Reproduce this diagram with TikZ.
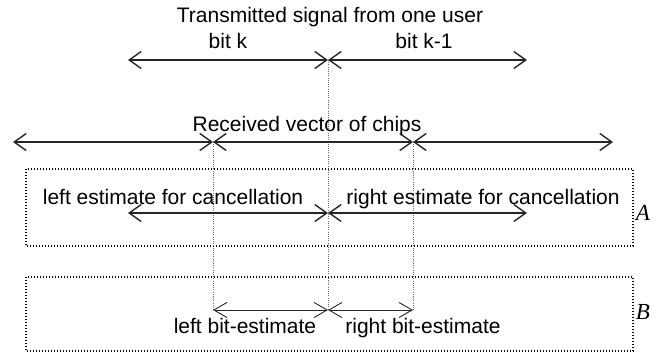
\documentclass[tikz,border=0pt]{standalone}
\usepackage{fontspec}
\setmainfont{Liberation Sans}
\newfontfamily\serifface{Liberation Serif}
\usetikzlibrary{arrows.meta}
\begin{document}
\begin{tikzpicture}[x=1pt,y=-1pt,
  txt/.style={font=\fontsize{21}{24}\selectfont, inner sep=0pt, anchor=base},
  span/.style={draw=black!85, line width=1.4pt,
    {Straight Barb[length=12pt,width=17pt]}-{Straight Barb[length=12pt,width=17pt]}},
  thinspan/.style={draw=black!85, line width=0.9pt,
    {Straight Barb[length=13pt,width=15pt]}-{Straight Barb[length=13pt,width=15pt]}},
  guide/.style={draw=black!60, line width=0.6pt, dash pattern=on 1pt off 1.2pt},
  region/.style={draw=black, line width=1.5pt, dash pattern=on 1.4pt off 1.6pt},
  lbl/.style={font=\serifface\itshape\fontsize{23}{24}\selectfont, inner sep=0pt}]
\useasboundingbox (0,0) rectangle (666,356);

% coordinates of span end points
\coordinate (t1) at (128,60);
\coordinate (t2) at (328,60);
\coordinate (t3) at (527,60);
\coordinate (r0) at (13,142);
\coordinate (r1) at (213,142);
\coordinate (r2) at (413,142);
\coordinate (r3) at (613,142);
\coordinate (a1) at (128,213);
\coordinate (a2) at (328,213);
\coordinate (a3) at (527,213);
\coordinate (b1) at (213,310);
\coordinate (b2) at (328,310);
\coordinate (b3) at (413,310);

% dotted regions
\draw[region] (26,169) rectangle (633,246);
\draw[region] (26,277) rectangle (633,351);
\node[lbl] (labA) at (643,213) {A};
\node[lbl] (labB) at (643,312) {B};

% guides
\draw[guide] (t2) -- (b2);
\draw[guide] (r1) -- (b1);
\draw[guide] (r2) -- (b3);

% texts
\node[txt] (title) at (330,22.5) {Transmitted signal from one user};
\node[txt] (bitk) at (228,48) {bit k};
\node[txt] (bitk1) at (424,48) {bit k-1};
\node[txt] (recv) at (307,131) {Received vector of chips};
\node[txt] (lest) at (173,204) {left estimate for cancellation};
\node[txt] (rest) at (483,204) {right estimate for cancellation};
\node[txt] (lbit) at (245,333) {left bit-estimate};
\node[txt] (rbit) at (423,333) {right bit-estimate};

% spans
\draw[span] (t1) -- (t2);
\draw[span] (t2) -- (t3);
\draw[span] (r0) -- (r1);
\draw[span] (r1) -- (r2);
\draw[span] (r2) -- (r3);
\draw[span] (a1) -- (a2);
\draw[span] (a2) -- (a3);
\draw[thinspan] (b1) -- (b2);
\draw[thinspan] (b2) -- (b3);
\end{tikzpicture}
\end{document}
